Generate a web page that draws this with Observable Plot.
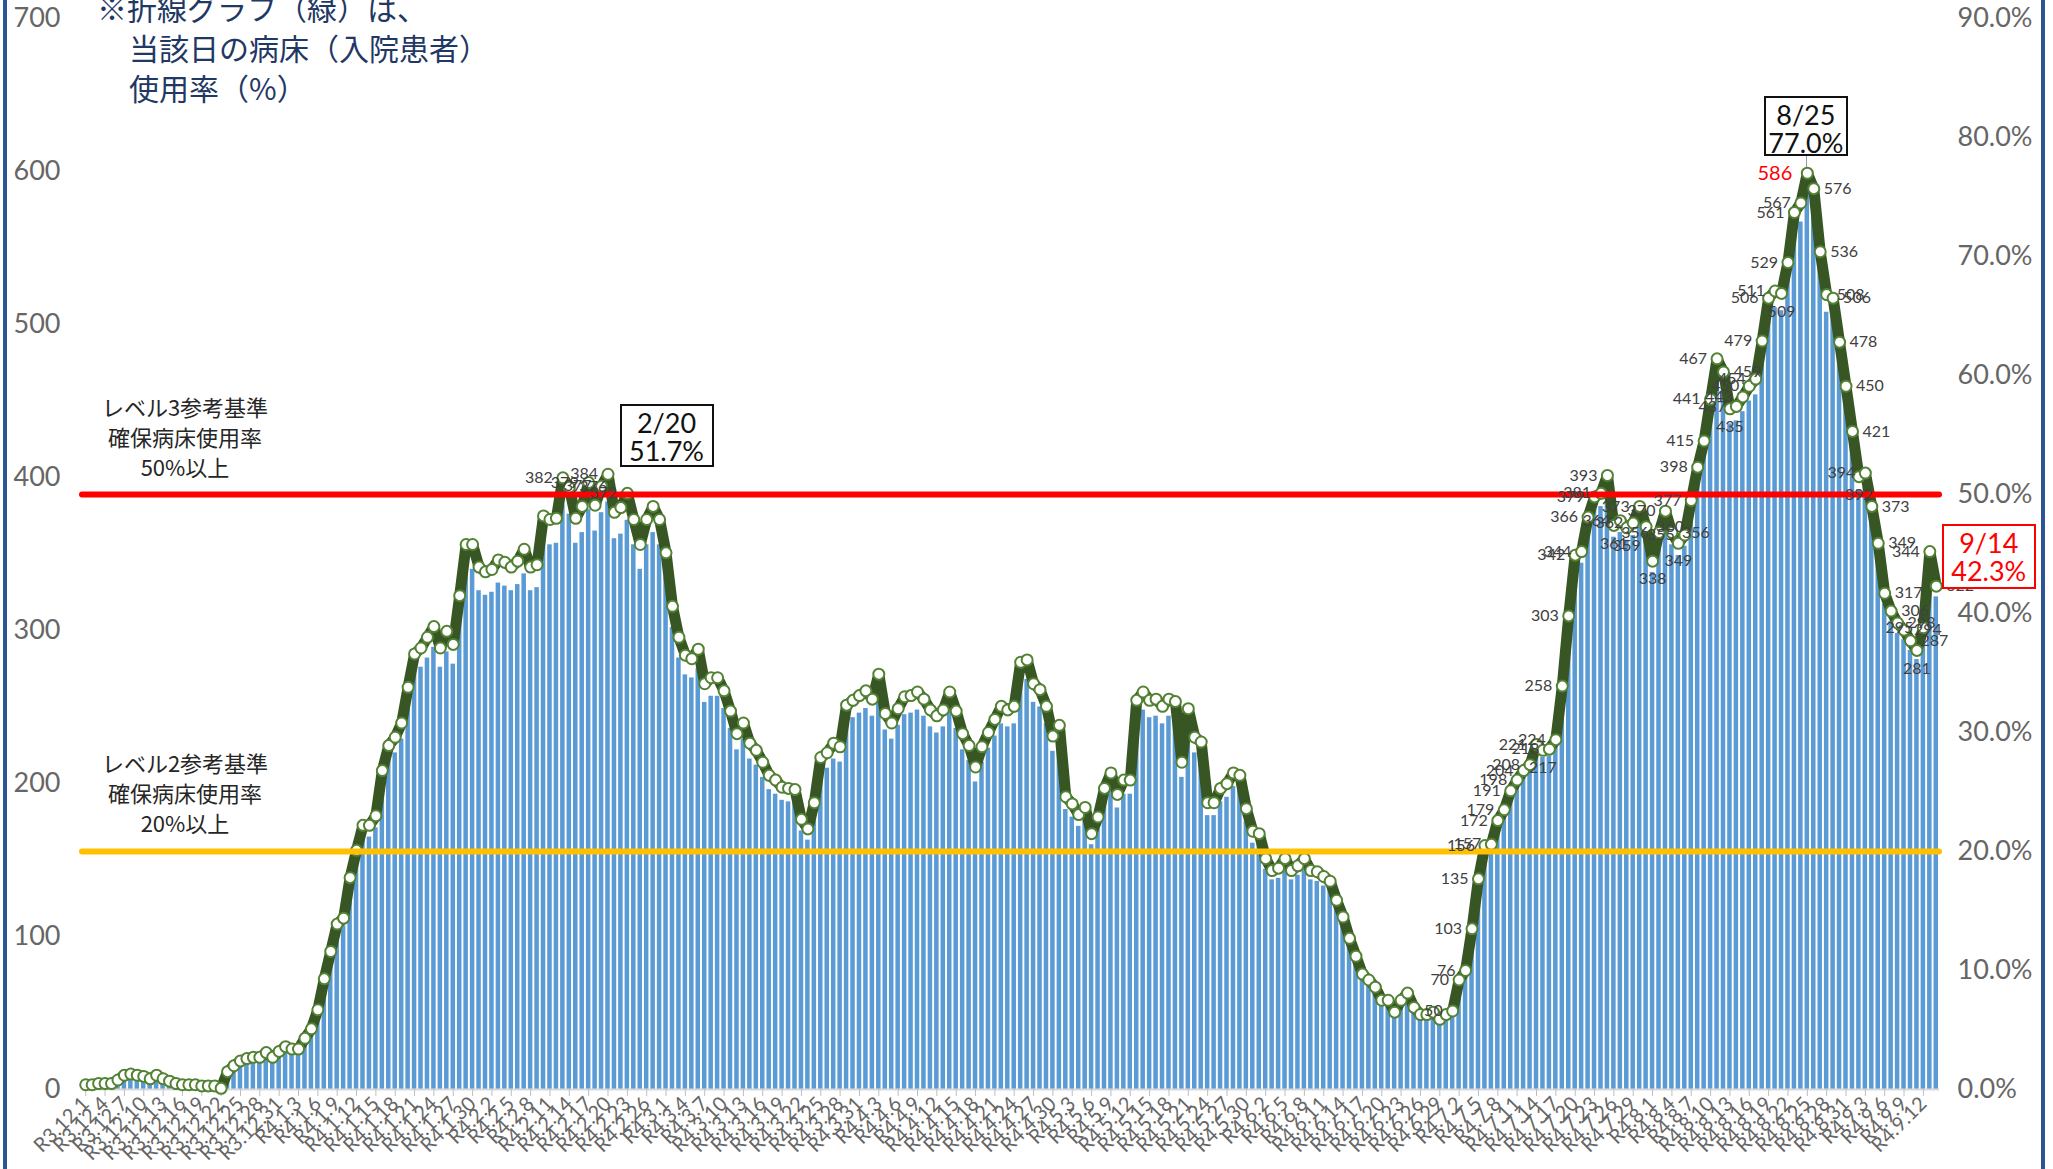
<!DOCTYPE html>
<html><head><meta charset="utf-8">
<script src="https://cdn.jsdelivr.net/npm/d3@7"></script>
<script src="https://cdn.jsdelivr.net/npm/@observablehq/plot@0.6"></script>
<style>
body{margin:0;background:#fff;}
#wrap{position:relative;width:2053px;height:1169px;overflow:hidden;background:#fff;}
.border{position:absolute;top:0;height:1169px;width:4px;background:#2F5496;}
.note{position:absolute;left:97px;top:-13px;font-family:"Noto Sans CJK JP",sans-serif;font-size:30px;line-height:40px;color:#1F3864;white-space:nowrap;}
.lvl{position:absolute;left:65px;width:240px;text-align:center;font-family:"Noto Sans CJK JP",sans-serif;font-size:22px;line-height:30px;color:#262626;}
.callout{position:absolute;background:#fff;text-align:center;font-family:Lato,sans-serif;font-size:27px;line-height:28px;box-sizing:border-box;padding-top:3px;}
</style></head><body><div id="wrap"></div><script>
// ---- data ----
const startDate = [2021, 11, 1]; // R3.12.1
const bedsDec = [3,3,4,4,4,6,9,10,9,8,7,9,7,5,4,3,3,3,2,2,2,1,11,15,18,19,20,20,23,20,24];
const bedsJan = [27,25,25,32,38,50,69,86,103,107,132,149,165,165,171,199,215,220,229,251,272,276,282,289,276,286,278,308,340,340,326];
const bedsFeb = [323,325,331,329,326,330,337,326,328,358,356,357,382,376,357,364,379,365,377,384,360,363,372,356,340,356,364,356];
const bedsMar = [335,302,282,271,269,275,253,257,257,249,236,222,229,216,212,204,196,193,189,188,187,169,163,179,207,210,216,214,240,243,246];
const bedsApr = [249,244,259,235,229,238,245,246,248,244,237,233,237,248,236,222,215,201,214,223,231,239,237,239,267,268,253,250,239,221];
const bedsMay = [227,183,178,172,176,160,170,188,198,184,193,193,243,248,243,244,239,244,242,204,238,220,217,179,179,188,191,198,196,175,161];
const bedsJun = [160,144,137,138,144,137,140,144,137,136,133,130,118,108,94,83,72,68,64,56,56,48,56,60,51,47,47,48,44,47];
const bedsJul = [50,70,76,103,135,156,157,172,179,191,198,204,208,221,217,218,224,258,303,342,344,366,379,381,393,361,364,359,362,373,360];
const bedsAug = [338,356,370,356,349,355,377,398,415,441,467,459,435,437,443,450,454,479,506,511,509,529,561,567,586,576,536,508,506,478,450];
const bedsSep = [421,392,394,373,349,317,306,298,294,287,281,295,344,322];

const rateDec = [0.4,0.4,0.5,0.5,0.5,0.8,1.2,1.3,1.2,1.1,0.9,1.2,0.9,0.7,0.5,0.4,0.4,0.4,0.3,0.3,0.3,0.1,1.5,2.0,2.4,2.6,2.7,2.7,3.1,2.7,3.2];
const rateJan = [3.6,3.4,3.4,4.3,5.1,6.7,9.3,11.6,13.9,14.4,17.8,20.1,22.2,22.2,23.0,26.8,28.9,29.6,30.8,33.8,36.6,37.1,38.0,38.9,37.1,38.5,37.4,41.5,45.8,45.8,43.9];
const rateFeb = [43.5,43.7,44.5,44.3,43.9,44.4,45.4,43.9,44.1,48.2,47.9,48.0,51.4,50.6,48.0,49.0,51.0,49.1,50.7,51.7,48.5,48.9,50.1,47.9,45.8,47.9,49.0,47.9];
const rateMar = [45.1,40.6,38.0,36.5,36.2,37.0,34.1,34.6,34.6,33.5,31.8,29.9,30.8,29.1,28.5,27.5,26.4,26.0,25.4,25.3,25.2,22.7,21.9,24.1,27.9,28.3,29.1,28.8,32.3,32.7,33.1];
const rateApr = [33.5,32.8,34.9,31.6,30.8,32.0,33.0,33.1,33.4,32.8,31.9,31.4,31.9,33.4,31.8,29.9,28.9,27.1,28.8,30.0,31.1,32.2,31.9,32.2,35.9,36.1,34.1,33.6,32.2,29.7];
const rateMay = [30.6,24.6,24.0,23.1,23.7,21.5,22.9,25.3,26.6,24.8,26.0,26.0,32.7,33.4,32.7,32.8,32.2,32.8,32.6,27.5,32.0,29.6,29.2,24.1,24.1,25.3,25.7,26.6,26.4,23.6,21.7];
const rateJun = [21.5,19.4,18.4,18.6,19.4,18.4,18.8,19.4,18.4,18.3,17.9,17.5,15.9,14.5,12.7,11.2,9.7,9.2,8.6,7.5,7.5,6.5,7.5,8.1,6.9,6.3,6.3,6.5,5.9,6.3];
const rateJul = [6.6,9.2,10.0,13.5,17.7,20.5,20.6,22.6,23.5,25.1,26.0,26.8,27.3,29.0,28.5,28.6,29.4,33.9,39.8,44.9,45.2,48.1,49.8,50.1,51.6,47.4,47.8,47.2,47.6,49.0,47.3];
const rateAug = [44.4,46.8,48.6,46.8,45.9,46.6,49.5,52.3,54.5,58.0,61.4,60.3,57.2,57.4,58.2,59.1,59.7,62.9,66.5,67.1,66.9,69.5,73.7,74.5,77.0,75.7,70.4,66.8,66.5,62.8,59.1];
const rateSep = [55.3,51.5,51.8,49.0,45.9,41.7,40.2,39.2,38.6,37.7,36.9,38.8,45.2,42.3];

const yTicksBeds = [0,100,200,300,400,500,600,700];
const yTicksRate = [0,10,20,30,40,50,60,70,80,90];
const level3Rate = 50, level2Rate = 20;
const level3Text = ["レベル3参考基準", "確保病床使用率", "50%以上"];
const level2Text = ["レベル2参考基準", "確保病床使用率", "20%以上"];
const noteText = ["※折線グラフ（緑）は、", "当該日の病床（入院患者）", "使用率（%）"];
const calloutKeys = ["2022-02-20", "2022-08-25", "2022-09-14"];
const peakKey = "2022-08-25";
const labelStartKey = "2022-07-01";
const extraLabelKeys = ["2022-02-13","2022-02-14","2022-02-17","2022-02-19","2022-02-20","2022-02-23"];

// ---- build table ----
const beds = [].concat(bedsDec,bedsJan,bedsFeb,bedsMar,bedsApr,bedsMay,bedsJun,bedsJul,bedsAug,bedsSep);
const rates = [].concat(rateDec,rateJan,rateFeb,rateMar,rateApr,rateMay,rateJun,rateJul,rateAug,rateSep);
const fmtKey = d3.timeFormat("%Y-%m-%d");
const d0 = new Date(...startDate);
const rows = beds.map((b, i) => {
  const date = d3.timeDay.offset(d0, i);
  return {i, date, key: fmtKey(date), beds: b, rate: rates[i]};
});
const byKey = new Map(rows.map(d => [d.key, d]));
const tickLabel = k => {
  const d = byKey.get(k).date;
  return `${d.getFullYear() === 2021 ? "R3" : "R4"}.${d.getMonth()+1}.${d.getDate()}`;
};
const tickKeys = rows.filter(d => d.i % 3 === 0).map(d => d.key);
const Y = p => p * 700 / 90;

const extraSet = new Set(extraLabelKeys);
const labelRows = rows.filter(d => (d.key >= labelStartKey || extraSet.has(d.key)) && d.key !== peakKey);
const dirOf = d => {
  const p = rows[d.i - 1], n = rows[d.i + 1];
  if (p && n && d.rate < p.rate && d.rate < n.rate) return "below";
  if (!p || d.rate >= p.rate) return "left";
  return "right";
};

const chart = Plot.plot({
  width: 2053, height: 1169,
  marginLeft: 82, marginRight: 114, marginTop: 18, marginBottom: 80,
  style: {fontFamily: "Lato, 'Liberation Sans', sans-serif", background: "transparent", color: "#595959"},
  x: {type: "band", domain: rows.map(d => d.key), paddingInner: 0.3, paddingOuter: 0.15, label: null},
  y: {domain: [0, 700], label: null},
  marks: [
    Plot.barY(rows, {x: "key", y: "beds", fill: "#5B9BD5"}),
    Plot.ruleY([0], {stroke: "#D9D9D9", strokeWidth: 2}),
    Plot.axisY({ticks: yTicksBeds, tickSize: 0, tickPadding: 22, fontSize: 27, fill: "#666", label: null}),
    Plot.axisY({anchor: "right", ticks: yTicksRate.map(Y), tickFormat: v => (v * 90 / 700).toFixed(1) + "%", tickSize: 0, tickPadding: 18, fontSize: 27, fill: "#666", label: null}),
    Plot.axisX({ticks: tickKeys, tickFormat: tickLabel, tickRotate: -45, fontSize: 20, tickSize: 7, tickPadding: 4, stroke: "#BFBFBF", fill: "#666", label: null}),
    Plot.line(rows, {x: "key", y: d => Y(d.rate), stroke: "#375623", strokeWidth: 11, strokeLinejoin: "round", strokeLinecap: "round"}),
    Plot.dot(rows, {x: "key", y: d => Y(d.rate), r: 5.5, fill: "white", stroke: "#548235", strokeWidth: 2}),
    Plot.ruleY([Y(level3Rate)], {stroke: "#FF0000", strokeWidth: 6, strokeLinecap: "round"}),
    Plot.ruleY([Y(level2Rate)], {stroke: "#FFC000", strokeWidth: 6, strokeLinecap: "round"}),
    Plot.text(labelRows.filter(d => dirOf(d) === "left"), {x: "key", y: d => Y(d.rate), text: d => String(d.beds), textAnchor: "end", dx: -10, fontSize: 16, fill: "#404040"}),
    Plot.text(labelRows.filter(d => dirOf(d) === "right"), {x: "key", y: d => Y(d.rate), text: d => String(d.beds), textAnchor: "start", dx: 10, fontSize: 16, fill: "#404040"}),
    Plot.text(labelRows.filter(d => dirOf(d) === "below"), {x: "key", y: d => Y(d.rate), text: d => String(d.beds), dy: 18, fontSize: 16, fill: "#404040"}),
    Plot.text([byKey.get(peakKey)], {x: "key", y: d => Y(d.rate), text: d => String(d.beds), textAnchor: "end", dx: -15, fontSize: 20, fill: "#FF0000"})
  ]
});

const wrap = document.getElementById("wrap");
wrap.appendChild(chart);

const xs = chart.scale("x"), ys = chart.scale("y");
const px = k => xs.apply(k) + xs.bandwidth / 2;
const py = r => ys.apply(Y(r));

function addDiv(cls, style, html) {
  const el = document.createElement("div");
  el.className = cls;
  Object.assign(el.style, style);
  el.innerHTML = html;
  wrap.appendChild(el);
  return el;
}

// note text (top-left)
addDiv("note", {}, `${noteText[0]}<br><span style="padding-left:32px">${noteText[1]}</span><br><span style="padding-left:32px">${noteText[2]}</span>`);

// level texts
addDiv("lvl", {top: (py(level3Rate) - 103) + "px"}, level3Text.join("<br>"));
addDiv("lvl", {top: (py(level2Rate) - 104) + "px"}, level2Text.join("<br>"));

// callouts
const cfg = {
  "2022-02-20": {dx: 12, dy: -70, w: 94, h: 63, color: "#111", border: "2px solid #111"},
  "2022-08-25": {dx: -43, dy: -77, w: 84, h: 60, color: "#111", border: "2px solid #111"},
  "2022-09-14": {dx: 6, dy: -62, w: 94, h: 65, color: "#FF0000", border: "2px solid #FF0000"}
};
for (const k of calloutKeys) {
  const d = byKey.get(k), c = cfg[k];
  const x = px(k), y = py(d.rate);
  addDiv("callout", {left: (x + c.dx) + "px", top: (y + c.dy) + "px", width: c.w + "px", height: c.h + "px", color: c.color, border: c.border},
    `${d.date.getMonth()+1}/${d.date.getDate()}<br>${d.rate.toFixed(1)}%`);
  if (k === peakKey) {
    addDiv("", {position: "absolute", left: (x - 1) + "px", top: (y + c.dy + c.h) + "px", width: "1.5px", height: (-c.dy - c.h - 6) + "px", background: "#999"}, "");
  }
}

// frame borders
addDiv("border", {left: "3px"}, "");
addDiv("border", {left: "2041px"}, "");
</script></body></html>
